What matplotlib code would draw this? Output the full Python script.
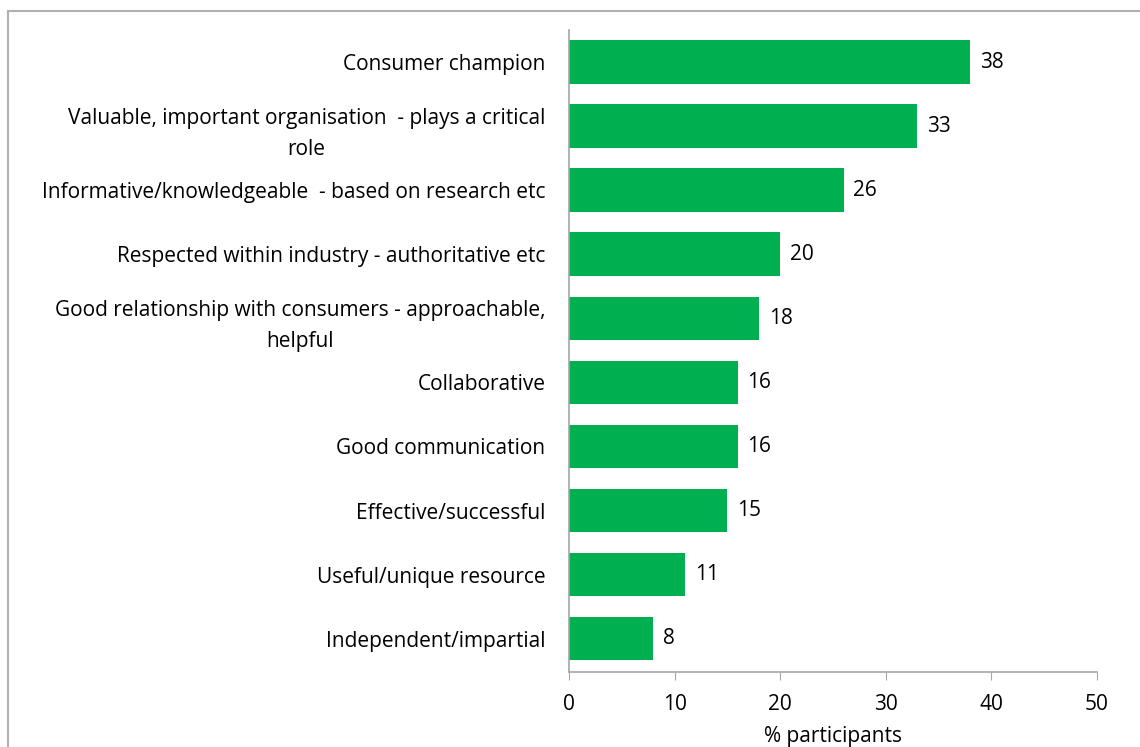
import matplotlib.pyplot as plt

# attributes associated with the organisation, % of participants mentioning each
categories = [
    "Consumer champion",
    "Valuable, important organisation  - plays a critical\nrole",
    "Informative/knowledgeable  - based on research etc",
    "Respected within industry - authoritative etc",
    "Good relationship with consumers - approachable,\nhelpful",
    "Collaborative",
    "Good communication",
    "Effective/successful",
    "Useful/unique resource",
    "Independent/impartial",
]
values = [38, 33, 26, 20, 18, 16, 16, 15, 11, 8]
x_ticks = [0, 10, 20, 30, 40, 50]

BAR_COLOR = "#00B050"
AXIS_COLOR = "#A6A6A6"

plt.rcParams["font.family"] = ["Open Sans", "DejaVu Sans"]

fig = plt.figure(figsize=(11.4, 7.47), dpi=100)
ax = fig.add_axes([569 / 1140, 1 - 672 / 747, (1097 - 569) / 1140, (672 - 30) / 747])

pos = list(range(len(categories)))
ax.barh(pos, values, height=0.68, color=BAR_COLOR)

for y, v in zip(pos, values):
    ax.text(v + 0.9, y, str(v), va="center", ha="left", fontsize=15, color="black")

ax.set_ylim(len(categories) - 0.48, -0.5)
ax.set_xlim(0, 50)
ax.set_yticks(pos)
ax.set_yticklabels(categories, fontsize=15, multialignment="center", linespacing=1.65)
ax.tick_params(axis="y", length=0, pad=17)
ax.set_xticks(x_ticks)
ax.tick_params(axis="x", length=6, color=AXIS_COLOR, labelsize=15, pad=10)
ax.set_xlabel("% participants", fontsize=15, labelpad=8)

for side in ["top", "right"]:
    ax.spines[side].set_visible(False)
for side in ["left", "bottom"]:
    ax.spines[side].set_color(AXIS_COLOR)
    ax.spines[side].set_linewidth(1.2)

# outer chart frame running off the page
frame = plt.Rectangle((8 / 1140, -0.05), 1.1, 1 - 11 / 747 + 0.05, transform=fig.transFigure,
                      fill=False, edgecolor="#B0B0B0", linewidth=1.5)
fig.add_artist(frame)

fig.savefig("out.png", dpi=100)
